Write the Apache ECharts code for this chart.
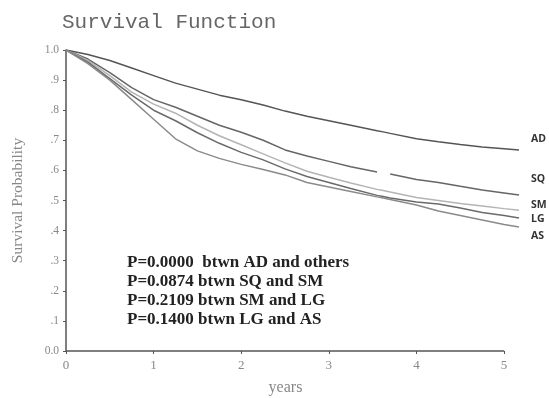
<!DOCTYPE html>
<html>
<head>
<meta charset="utf-8">
<script src="https://cdn.jsdelivr.net/npm/echarts@6/dist/echarts.min.js"></script>
<style>html,body{margin:0;padding:0;background:#fff}#c{width:549px;height:398px}</style>
</head>
<body>
<div id="c"></div>
<script>
const years = [0,0.25,0.5,0.75,1,1.25,1.5,1.75,2,2.25,2.5,2.75,3,3.25,3.55,3.62,3.7,4,4.25,4.5,4.75,5,5.17];
const AD = [1.0,0.985,0.965,0.94,0.915,0.89,0.87,0.85,0.835,0.817,0.797,0.78,0.765,0.75,0.732,0.728,0.723,0.705,0.695,0.686,0.678,0.672,0.668];
const SQ = [1.0,0.97,0.925,0.875,0.835,0.81,0.78,0.75,0.727,0.70,0.668,0.648,0.63,0.612,0.595,null,0.588,0.57,0.56,0.547,0.535,0.525,0.518];
const SM = [1.0,0.965,0.915,0.86,0.82,0.79,0.75,0.715,0.685,0.655,0.625,0.597,0.577,0.558,0.537,0.533,0.528,0.51,0.50,0.49,0.482,0.473,0.468];
const LG = [1.0,0.96,0.905,0.85,0.80,0.765,0.725,0.69,0.66,0.635,0.605,0.58,0.56,0.54,0.517,0.513,0.508,0.495,0.488,0.475,0.46,0.45,0.442];
const AS = [1.0,0.955,0.90,0.835,0.77,0.705,0.665,0.64,0.62,0.603,0.585,0.56,0.545,0.53,0.512,0.508,0.503,0.485,0.465,0.45,0.435,0.42,0.412];
const seriesNames = ['AD','SQ','SM','LG','AS'];
const xTicks = [0,1,2,3,4,5];
const notes = ['P=0.0000  btwn AD and others','P=0.0874 btwn SQ and SM','P=0.2109 btwn SM and LG','P=0.1400 btwn LG and AS'];

const values = [AD,SQ,SM,LG,AS];
const colors = ['#555555','#666666','#b4b4b4','#6a6a6a','#8a8a8a'];
const labelOffsets = [[2,-11],[2,-16],[2,-5],[2,1],[2,9]];

const chart = echarts.init(document.getElementById('c'), null, {renderer:'canvas'});
const series = seriesNames.map((n,i)=>({
  name:n, type:'line', showSymbol:false, symbol:'none', connectNulls:false,
  data: years.map((t,j)=>[t, values[i][j]]),
  lineStyle:{color:colors[i], width:1.5},
  itemStyle:{color:colors[i]},
  z:3,
  endLabel:{show:true, formatter:n, distance:10, offset:labelOffsets[i],
    fontFamily:'Open Sans', fontWeight:'bold', fontSize:10.5, color:'#333'}
}));
series.push({
  type:'line', data:[], silent:true,
  markLine:{silent:true, symbol:'none', label:{show:false},
    lineStyle:{color:'#555', width:1.5, type:'solid'},
    data:[[{coord:[xTicks[0],0]},{coord:[xTicks[xTicks.length-1],0]}]]}
});

chart.setOption({
  animation:false,
  backgroundColor:'#fff',
  title:{text:'Survival Function', left:57, top:7,
    textStyle:{fontFamily:'Liberation Mono', fontWeight:'normal', fontSize:21, color:'#666'}},
  grid:{left:66, right:30, top:50, bottom:47, containLabel:false, outerBoundsMode:'none'},
  xAxis:{type:'value', min:0, max:5.17,
    name:'years', nameLocation:'middle', nameGap:29,
    nameTextStyle:{fontFamily:'Liberation Serif', fontSize:16, color:'#888', padding:[0,14,0,0]},
    axisLine:{show:false},
    axisTick:{show:true, customValues:xTicks, length:3, lineStyle:{color:'#555'}},
    axisLabel:{customValues:xTicks, fontFamily:'Liberation Serif', fontSize:13, color:'#888', margin:8},
    splitLine:{show:false}},
  yAxis:{type:'value', min:0, max:1, interval:0.1,
    name:'Survival Probability', nameLocation:'middle', nameGap:40, nameRotate:90,
    nameTextStyle:{fontFamily:'Liberation Serif', fontSize:15.5, color:'#888'},
    axisLine:{show:true, lineStyle:{color:'#555', width:1.5}},
    axisTick:{show:true, length:3, lineStyle:{color:'#555'}},
    axisLabel:{fontFamily:'Liberation Serif', fontSize:11.5, color:'#888', margin:7,
      formatter:v=>{ if(Math.abs(v)<1e-9) return '0.0'; if(Math.abs(v-1)<1e-9) return '1.0'; return '.'+Math.round(v*10); }},
    splitLine:{show:false}},
  series:series,
  graphic:[{type:'text', left:127, top:253, z:10,
    style:{text:notes.join('\n'), font:'bold 17px "Liberation Serif"', lineHeight:19, fill:'#222'}}]
});
</script>
</body>
</html>
